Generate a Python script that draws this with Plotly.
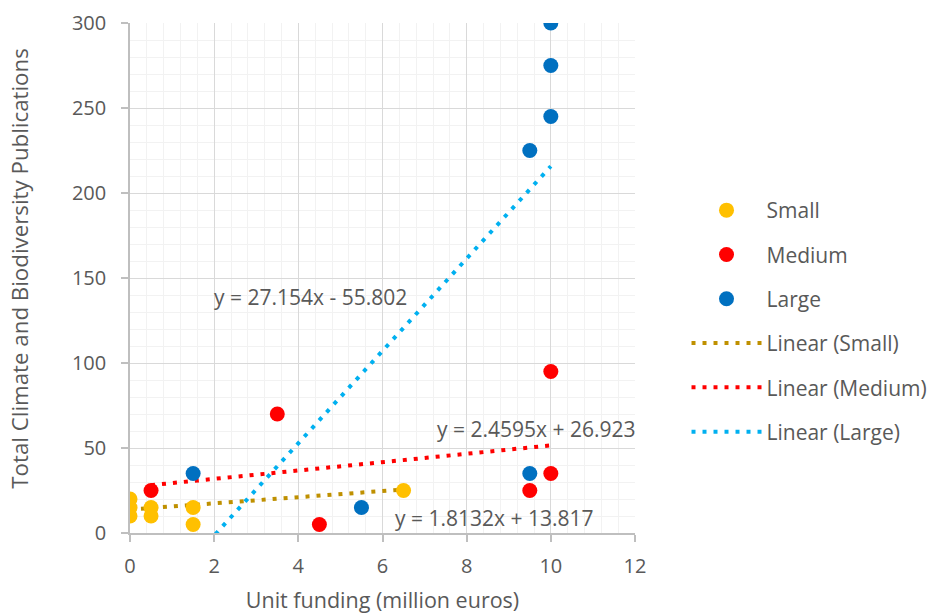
import plotly.graph_objects as go

# Unit funding (million euros) and publication counts per unit size
small_x = [0, 0, 0, 0.5, 0.5, 1.5, 1.5, 6.5]
small_y = [20, 15, 10, 15, 10, 15, 5, 25]
medium_x = [0.5, 3.5, 4.5, 9.5, 10, 10]
medium_y = [25, 70, 5, 25, 35, 95]
large_x = [1.5, 5.5, 9.5, 9.5, 10, 10, 10]
large_y = [35, 15, 35, 225, 245, 275, 300]

# Linear trendline coefficients (slope, intercept)
small_fit = (1.8132, 13.817)
medium_fit = (2.4595, 26.923)
large_fit = (27.154, -55.802)

x_ticks = [0, 2, 4, 6, 8, 10, 12]
y_ticks = [0, 50, 100, 150, 200, 250, 300]

TEXT = "#595959"
FONT = "Open Sans"
TICK_FS = 20
LABEL_FS = 21
TITLE_FS = 21.5

fig = go.Figure()

series = [
    ("Small", small_x, small_y, "#FFC000"),
    ("Medium", medium_x, medium_y, "#FF0000"),
    ("Large", large_x, large_y, "#0070C0"),
]
fits = [
    ("Linear (Small)", small_x, small_fit, "#BF9000"),
    ("Linear (Medium)", medium_x, medium_fit, "#FF0000"),
    ("Linear (Large)", large_x, large_fit, "#00B0F0"),
]

# Trendlines underneath the markers
for name, xs, (m, b), col in fits:
    x0, x1 = min(xs), max(xs)
    fig.add_trace(go.Scatter(
        x=[x0, x1], y=[m * x0 + b, m * x1 + b], mode="lines", name=name,
        line=dict(color=col, width=4, dash="4px,7px"),
        legendgroup=name, legendrank=10 + len(fig.data), hoverinfo="skip",
    ))

for name, xs, ys, col in series:
    fig.add_trace(go.Scatter(
        x=xs, y=ys, mode="markers", name=name,
        marker=dict(color=col, size=15, line=dict(width=0)),
        legendgroup=name, legendrank=len(fig.data) - 3,
    ))

# Trendline equations
eqs = [
    (small_fit, 8.65, 8.8),
    (medium_fit, 9.64, 61.2),
    (large_fit, 4.30, 138.8),
]
for (m, b), ex, ey in eqs:
    sign = "+" if b >= 0 else "-"
    fig.add_annotation(
        x=ex, y=ey, text=f"y = {m:g}x {sign} {abs(b):.3f}", showarrow=False,
        font=dict(family=FONT, size=LABEL_FS, color=TEXT), xanchor="center", yanchor="middle",
    )

# Vertical axis title, set slightly above the plot's mid-height
fig.add_annotation(
    xref="paper", yref="paper", x=-0.218, y=0.52,
    text="Total Climate and Biodiversity Publications", textangle=-90,
    showarrow=False, xanchor="center", yanchor="middle",
    font=dict(family=FONT, size=22.3, color=TEXT),
)

axis_common = dict(
    showline=True, linecolor="#BFBFBF", linewidth=1.5,
    ticks="outside", ticklen=7, tickcolor="#BFBFBF", tickwidth=1.5,
    gridcolor="#D9D9D9", gridwidth=1.3, zeroline=False,
    tickfont=dict(family=FONT, size=TICK_FS, color=TEXT),
    title_font=dict(family=FONT, size=TITLE_FS, color=TEXT),
    mirror=False, automargin=False,
)

fig.update_xaxes(
    range=[0, 12], tickvals=x_ticks, dtick=2,
    minor=dict(dtick=0.4, showgrid=True, gridcolor="#F2F2F2", gridwidth=1.3),
    title_text="Unit funding (million euros)", title_standoff=22,
    ticklabelstandoff=7,
    **axis_common,
)
fig.update_yaxes(
    range=[0, 300], tickvals=y_ticks, dtick=50,
    minor=dict(dtick=10, showgrid=True, gridcolor="#F2F2F2", gridwidth=1.3),
    ticklabelstandoff=11,
    **axis_common,
)

fig.update_layout(
    width=930, height=614,
    margin=dict(l=130, r=295, t=23, b=81, autoexpand=False),
    plot_bgcolor="white", paper_bgcolor="white",
    showlegend=True,
    legend=dict(
        x=1.102, y=0.4157, xanchor="left", yanchor="middle",
        font=dict(family=FONT, size=LABEL_FS, color=TEXT),
        tracegroupgap=14, traceorder="grouped", itemwidth=70,
        bgcolor="rgba(0,0,0,0)",
    ),
)

fig.write_html("out.html")
